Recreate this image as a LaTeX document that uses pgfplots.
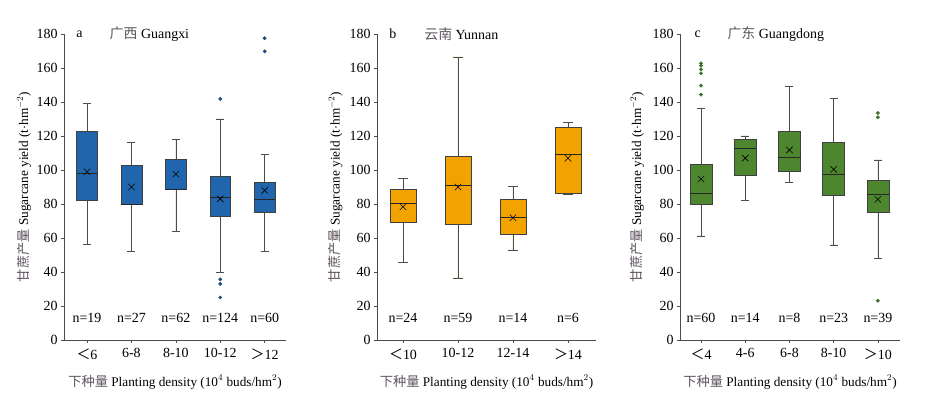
\documentclass[border=0pt]{standalone}
\usepackage{fontspec}
\setmainfont{Liberation Serif}
\newfontfamily\cjk{Noto Sans CJK SC}
\usepackage{pgfplots}
\pgfplotsset{compat=1.18}
\usepgfplotslibrary{statistics}

\definecolor{cA}{RGB}{33,102,172}
\definecolor{cB}{RGB}{242,163,0}
\definecolor{cC}{RGB}{78,134,48}
\definecolor{labgray}{RGB}{95,85,95}

\pgfplotsset{
 panel/.style={
  scale only axis, height=306bp,
  axis x line*=bottom, axis y line*=left,
  ymin=0, ymax=180, ytick={0,20,...,180},
  tick align=outside, major tick length=3bp,
  tick style={black!70, line width=0.6pt},
  axis line style={black!70, line width=0.9pt},
  font=\fontsize{14}{16}\selectfont,
  /pgf/number format/assume math mode=true,
  xtick={1,...,5},
  clip=false,
  ylabel={{\color{labgray}\cjk 甘蔗产量} Sugarcane yield (t$\cdot$hm$^{-2}$)},
  xlabel={{\color{labgray}\cjk 下种量} Planting density (10$^4$ buds/hm$^2$)},
  xlabel style={at={(axis description cs:0.5,-0.137)}, anchor=center, font=\fontsize{13.3}{15}\selectfont},
  ylabel style={font=\fontsize{13.3}{15}\selectfont},
  xticklabel style={yshift=-2bp},
  boxplot/draw direction=y,
  boxplot/every box/.style={draw=black!75, line width=0.6pt},
  boxplot/every whisker/.style={draw=black!70, line width=0.6pt},
  boxplot/every median/.style={draw=black!85, line width=0.9pt},
 },
 bx/.style n args={7}{boxplot prepared={draw position=#1, lower whisker=#2, lower quartile=#3, median=#4, upper quartile=#5, upper whisker=#6, box extend=#7, whisker extend=0.18}},
 meanmk/.style={only marks, mark=x, mark size=4.5bp, black, mark options={line width=0.6pt}},
 outl/.style={only marks, mark=*, mark size=1.7bp, draw=#1, fill=#1},
}

\begin{document}
\begin{tikzpicture}
\useasboundingbox (0,0) rectangle (931bp,399bp);

% ---------- a Guangxi ----------
\begin{axis}[panel, at={(64bp,59bp)}, anchor=south west, width=222bp,
  xmin=0.482, xmax=5.48,
  xticklabels={{\cjk ＜}6,6-8,8-10,10-12,{\cjk ＞}12},
  ylabel style={at={(axis description cs:-0.18,0.5)}, anchor=center}]
\addplot[bx={1}{56}{82}{98}{123}{139}{0.47}, fill=cA] coordinates {};
\addplot[bx={2}{52}{80}{80}{103}{116}{0.47}, fill=cA] coordinates {};
\addplot[bx={3}{64}{88.6}{88.6}{106}{118}{0.47}, fill=cA] coordinates {};
\addplot[bx={4}{39.6}{72.5}{84}{96.5}{130}{0.47}, fill=cA] coordinates {};
\addplot[bx={5}{52}{75}{82.7}{92.5}{109}{0.47}, fill=cA] coordinates {};
\addplot[outl=cA!75!black] coordinates {(4,141.8) (4,35.7) (4,33) (4,25) (5,177.5) (5,169.8)};
\addplot[meanmk] coordinates {(1,99) (2,90) (3,97.6) (4,83) (5,88)};
\node at (axis cs:1,13) {n=19};
\node at (axis cs:2,13) {n=27};
\node at (axis cs:3,13) {n=62};
\node at (axis cs:4,13) {n=124};
\node at (axis cs:5,13) {n=60};
\node[anchor=west] at (axis description cs:0.04,1) {a};
\node[anchor=west] at (axis description cs:0.19,1) {{\color{labgray}\cjk 广西} Guangxi};
\end{axis}

% ---------- b Yunnan ----------
\begin{axis}[panel, at={(377bp,59bp)}, anchor=south west, width=219bp,
  xmin=0.527, xmax=4.51, xtick={1,...,4},
  xticklabels={{\cjk ＜}10,10-12,12-14,{\cjk ＞}14},
  ylabel style={at={(axis description cs:-0.19,0.5)}, anchor=center}]
\addplot[bx={1}{45.7}{69.4}{80.6}{88.8}{95}{0.47}, fill=cB] coordinates {};
\addplot[bx={2}{36.5}{68.2}{90.8}{107.8}{166.5}{0.47}, fill=cB] coordinates {};
\addplot[bx={3}{53}{62.2}{71.8}{82.5}{90.4}{0.47}, fill=cB] coordinates {};
\addplot[bx={4}{85.5}{86.3}{109}{125}{128}{0.47}, fill=cB] coordinates {};
\addplot[meanmk] coordinates {(1,78.4) (2,90) (3,71.9) (4,106.9)};
\node at (axis cs:1,13) {n=24};
\node at (axis cs:2,13) {n=59};
\node at (axis cs:3,13) {n=14};
\node at (axis cs:4,13) {n=6};
\node[anchor=west] at (axis description cs:0.04,1) {b};
\node[anchor=west] at (axis description cs:0.2,1) {{\color{labgray}\cjk 云南} Yunnan};
\end{axis}

% ---------- c Guangdong ----------
\begin{axis}[panel, at={(680bp,59bp)}, anchor=south west, width=220bp,
  xmin=0.525, xmax=5.5,
  xticklabels={{\cjk ＜}4,4-6,6-8,8-10,{\cjk ＞}10},
  ylabel style={at={(axis description cs:-0.195,0.5)}, anchor=center}]
\addplot[bx={1}{61.2}{79.8}{86.3}{103.1}{136.3}{0.5}, fill=cC] coordinates {};
\addplot[bx={2}{82}{96.9}{112.4}{118}{120}{0.5}, fill=cC] coordinates {};
\addplot[bx={3}{92.9}{99.2}{107.5}{122.7}{149}{0.5}, fill=cC] coordinates {};
\addplot[bx={4}{55.9}{85.3}{97.4}{116.5}{142}{0.5}, fill=cC] coordinates {};
\addplot[bx={5}{48}{75.1}{85.7}{94.1}{105.9}{0.5}, fill=cC] coordinates {};
\addplot[outl=cC!85!black] coordinates {(1,162.7) (1,161.4) (1,159.2) (1,156.9) (1,149.6) (1,144.3) (5,133.5) (5,131) (5,23.1)};
\addplot[meanmk] coordinates {(1,94.7) (2,107) (3,111.8) (4,100.4) (5,82.7)};
\node at (axis cs:1,13) {n=60};
\node at (axis cs:2,13) {n=14};
\node at (axis cs:3,13) {n=8};
\node at (axis cs:4,13) {n=23};
\node at (axis cs:5,13) {n=39};
\node[anchor=west] at (axis description cs:0.05,1) {c};
\node[anchor=west] at (axis description cs:0.2,1) {{\color{labgray}\cjk 广东} Guangdong};
\end{axis}
\end{tikzpicture}
\end{document}
